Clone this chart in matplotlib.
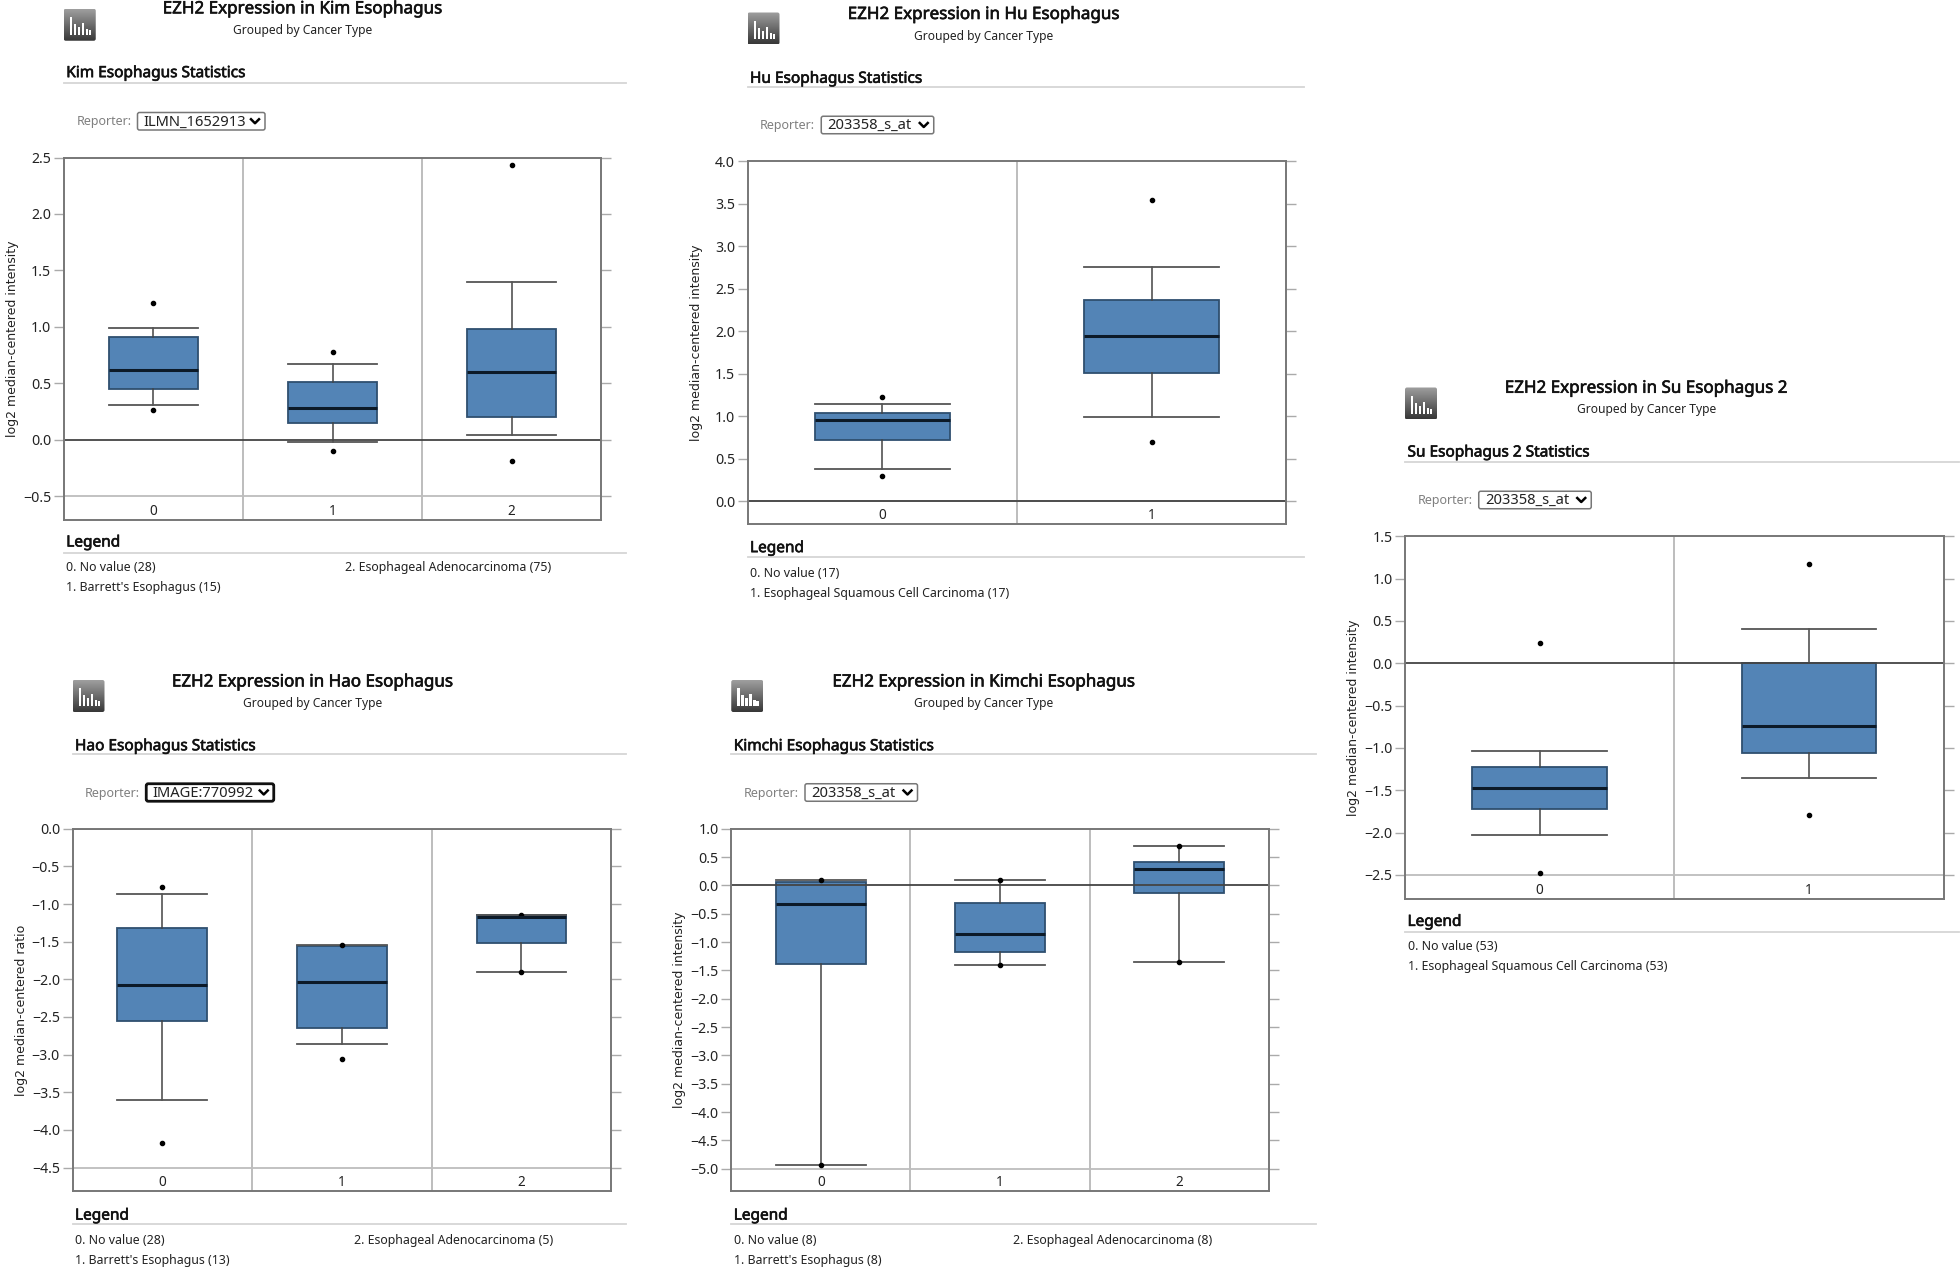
import matplotlib
matplotlib.use('Agg')
import matplotlib.pyplot as plt
import matplotlib.patheffects as pe
from matplotlib.patches import FancyBboxPatch
import numpy as np

plt.rcParams['font.family'] = ['Noto Sans', 'DejaVu Sans']

W, H = 1960, 1279
S = 1.25  # layout below was measured on the shrunk picture

names = ['Kim', 'Hu', 'Su', 'Hao', 'Kimchi']
titles = ['EZH2 Expression in Kim Esophagus', 'EZH2 Expression in Hu Esophagus',
          'EZH2 Expression in Su Esophagus 2', 'EZH2 Expression in Hao Esophagus',
          'EZH2 Expression in Kimchi Esophagus']
stat_titles = ['Kim Esophagus Statistics', 'Hu Esophagus Statistics', 'Su Esophagus 2 Statistics',
               'Hao Esophagus Statistics', 'Kimchi Esophagus Statistics']
reporters = ['ILMN_1652913', '203358_s_at', '203358_s_at', 'IMAGE:770992', '203358_s_at']
ylabels = ['log2 median-centered intensity', 'log2 median-centered intensity',
           'log2 median-centered intensity', 'log2 median-centered ratio',
           'log2 median-centered intensity']
legend0 = ['0. No value (28)', '0. No value (17)', '0. No value (53)', '0. No value (28)', '0. No value (8)']
legend1 = ["1. Barrett's Esophagus (15)", '1. Esophageal Squamous Cell Carcinoma (17)',
           '1. Esophageal Squamous Cell Carcinoma (53)', "1. Barrett's Esophagus (13)",
           "1. Barrett's Esophagus (8)"]
legend2 = ['2. Esophageal Adenocarcinoma (75)', None, None, '2. Esophageal Adenocarcinoma (5)',
           '2. Esophageal Adenocarcinoma (8)']

# whisker low, q1, median, q3, whisker high, outlier low, outlier high
kim_stats = [[0.31, 0.45, 0.62, 0.91, 0.99, 0.26, 1.21],
             [-0.02, 0.15, 0.28, 0.51, 0.67, -0.10, 0.78],
             [0.04, 0.20, 0.60, 0.98, 1.40, -0.19, 2.43]]
hu_stats = [[0.38, 0.72, 0.96, 1.04, 1.15, 0.30, 1.23],
            [0.99, 1.51, 1.95, 2.37, 2.76, 0.70, 3.54]]
su_stats = [[-2.03, -1.72, -1.47, -1.23, -1.03, -2.48, 0.24],
            [-1.35, -1.06, -0.74, 0.0, 0.41, -1.79, 1.17]]
hao_stats = [[-3.60, -2.56, -2.08, -1.32, -0.87, -4.17, -0.78],
             [-2.86, -2.65, -2.03, -1.56, -1.55, -3.06, -1.54],
             [-1.90, -1.52, -1.17, -1.14, -1.14, -1.90, -1.14]]
kimchi_stats = [[-4.93, -1.39, -0.33, 0.06, 0.10, -4.93, 0.10],
                [-1.41, -1.17, -0.86, -0.31, 0.10, -1.41, 0.10],
                [-1.36, -0.13, 0.29, 0.41, 0.69, -1.36, 0.69]]
all_stats = [kim_stats, hu_stats, su_stats, hao_stats, kimchi_stats]

kim_ticks = [-0.5, 0.0, 0.5, 1.0, 1.5, 2.0, 2.5]
hu_ticks = [0.0, 0.5, 1.0, 1.5, 2.0, 2.5, 3.0, 3.5, 4.0]
su_ticks = [-2.5, -2.0, -1.5, -1.0, -0.5, 0.0, 0.5, 1.0, 1.5]
hao_ticks = [-4.5, -4.0, -3.5, -3.0, -2.5, -2.0, -1.5, -1.0, -0.5, 0.0]
kimchi_ticks = [-5.0, -4.5, -4.0, -3.5, -3.0, -2.5, -2.0, -1.5, -1.0, -0.5, 0.0, 0.5, 1.0]
all_ticks = [kim_ticks, hu_ticks, su_ticks, hao_ticks, kimchi_ticks]

# left, right, top, bottom, y pixel of lowest tick
frames = [(51, 481, 126, 416, 397), (598, 1029, 129, 419, 401), (1124, 1555, 429, 719, 700),
          (58, 489, 663, 953, 934), (585, 1015, 663, 953, 935)]
title_x = [242, 787, 1317, 250, 787]
rule_right = [501, 1043, 1567, 501, 1053]
select_right = [212, 747, 1273, 219, 734]
head_shift = [1.5, 3, 2, 3, 3]

BLUE = '#5384b6'
GREY = '#bdbdbd'
FRAME = '#777777'
TXT = '#222222'
DARK = '#111111'
HEAVY = [pe.withStroke(linewidth=0.45, foreground=DARK)]

fig = plt.figure(figsize=(W / 100, H / 100), dpi=100)
bg = fig.add_axes([0, 0, 1, 1])
bg.set_xlim(0, W)
bg.set_ylim(H, 0)
bg.axis('off')


def icon(x, y):
    grad = np.linspace(0.62, 0.22, 40).reshape(-1, 1)
    im = bg.imshow(grad, cmap='gray', vmin=0, vmax=1, extent=(x, x + 32, y + 32, y), aspect='auto', zorder=2)
    box = FancyBboxPatch((x + 2, y + 2), 28, 28, boxstyle='round,pad=2', transform=bg.transData, fc='none', ec='none')
    bg.add_patch(box)
    im.set_clip_path(box)
    for dx, h in zip([6, 10, 14, 18, 22, 25], [18, 11, 8, 12, 6, 5]):
        bg.fill_between([x + dx, x + dx + 2.4], y + 26, y + 26 - h, color='white', lw=0, zorder=3)


def panel(i):
    left, right, top, bottom, low_px = frames[i]
    ticks = all_ticks[i]
    stats = all_stats[i]
    n = len(stats)
    sh = head_shift[i]
    ax = fig.add_axes([left * S / W, 1 - bottom * S / H, (right - left) * S / W, (bottom - top) * S / H])
    per_px = (ticks[-1] - ticks[0]) / (low_px - top)
    ax.set_ylim(ticks[0] - (bottom - low_px) * per_px, ticks[-1])
    ax.set_xlim(-0.5, n - 0.5)

    bxp_stats = [dict(whislo=s[0], q1=s[1], med=s[2], q3=s[3], whishi=s[4], fliers=[s[5], s[6]]) for s in stats]
    ax.bxp(bxp_stats, positions=range(n), widths=0.5, patch_artist=True,
           boxprops=dict(facecolor=BLUE, edgecolor='#2f4f6f', linewidth=1.3),
           medianprops=dict(color='#0c1a28', linewidth=2.2, solid_capstyle='butt'),
           whiskerprops=dict(color='#444444', linewidth=1.1),
           capprops=dict(color='#555555', linewidth=1.3), capwidths=0.5,
           flierprops=dict(marker='o', markersize=3.0, markerfacecolor='black', markeredgecolor='black'),
           zorder=3)

    ax.axhline(0, color='#444444', lw=1.3, zorder=4)
    ax.axhline(ticks[0], color=GREY, lw=1.3, zorder=1)
    for k in range(1, n):
        ax.axvline(k - 0.5, color=GREY, lw=1.4, zorder=1)

    ax.set_yticks(ticks)
    ax.set_yticklabels([f'{t:.1f}'.replace('-', '\u2212') for t in ticks], fontsize=10.2, color=TXT)
    ax.tick_params(axis='y', length=7, width=1, color='#aaaaaa', pad=2, right=True)
    ax.set_xticks(range(n))
    ax.set_xticklabels(range(n), fontsize=9.8, color=TXT)
    ax.tick_params(axis='x', length=0, direction='in', pad=-11.5)
    for sp in ax.spines.values():
        sp.set_color(FRAME)
        sp.set_linewidth(1.4)
        sp.set_zorder(5)
    ax.set_ylabel(ylabels[i], fontsize=9.0, color=TXT, family='DejaVu Sans')
    ax.yaxis.set_label_coords(-36 / (right - left), 0.5)
    ax.set_xlabel('')

    # page furniture around the plot
    icon(left * S, (top - 119) * S)
    bg.text(title_x[i] * S, (top - 120 + sh) * S, titles[i], fontsize=12.25, color=DARK, ha='center', va='center', path_effects=HEAVY)
    bg.text(title_x[i] * S, (top - 102 + sh - 1) * S, 'Grouped by Cancer Type', fontsize=8.7, color=TXT, ha='center', va='center')
    bg.text((left + 2) * S, (top - 69 + sh) * S, stat_titles[i], fontsize=11.1, color=DARK, va='center', path_effects=HEAVY)
    bg.plot([left * S, rule_right[i] * S], [(top - 60 + 0.5) * S] * 2, color='#d5d5d5', lw=1.3)
    bg.text((left + 10) * S, (top - 30 + 1.5) * S, 'Reporter:', fontsize=9.0, color='#808080', va='center')
    sel_l = (left + 59) * S
    sel_r = select_right[i] * S
    focused = names[i] == 'Hao'
    bg.add_patch(FancyBboxPatch((sel_l + 2, (top - 37 + 1) * S + 2), sel_r - sel_l - 4, 14 * S - 4, boxstyle='round,pad=2',
                                fc='white', ec='#111111' if focused else '#777777', lw=2 if focused else 1.1))
    bg.text(sel_l + 6, (top - 30 + 1.5) * S, reporters[i], fontsize=10.6, color=TXT, va='center')
    cx, cy = sel_r - 10, (top - 30 + 1) * S
    bg.plot([cx - 4, cx, cx + 4], [cy - 2, cy + 2, cy - 2], color='black', lw=1.8)

    bg.text((left + 2) * S, (bottom + 17 + sh - 0.5) * S, 'Legend', fontsize=11.1, color=DARK, va='center', path_effects=HEAVY)
    bg.plot([left * S, rule_right[i] * S], [(bottom + 26 + 0.5) * S] * 2, color='#d5d5d5', lw=1.3)
    bg.text((left + 2) * S, (bottom + 38 + sh - 1.5) * S, legend0[i], fontsize=8.9, color=TXT, va='center')
    bg.text((left + 2) * S, (bottom + 54 + sh - 1.5) * S, legend1[i], fontsize=8.9, color=TXT, va='center')
    if legend2[i]:
        bg.text((left + 225) * S, (bottom + 38 + sh - 1.5) * S, legend2[i], fontsize=8.9, color=TXT, va='center')


for i in range(len(names)):
    panel(i)

bg.set_xlim(0, W)
bg.set_ylim(H, 0)
fig.savefig('out.png', dpi=100)
